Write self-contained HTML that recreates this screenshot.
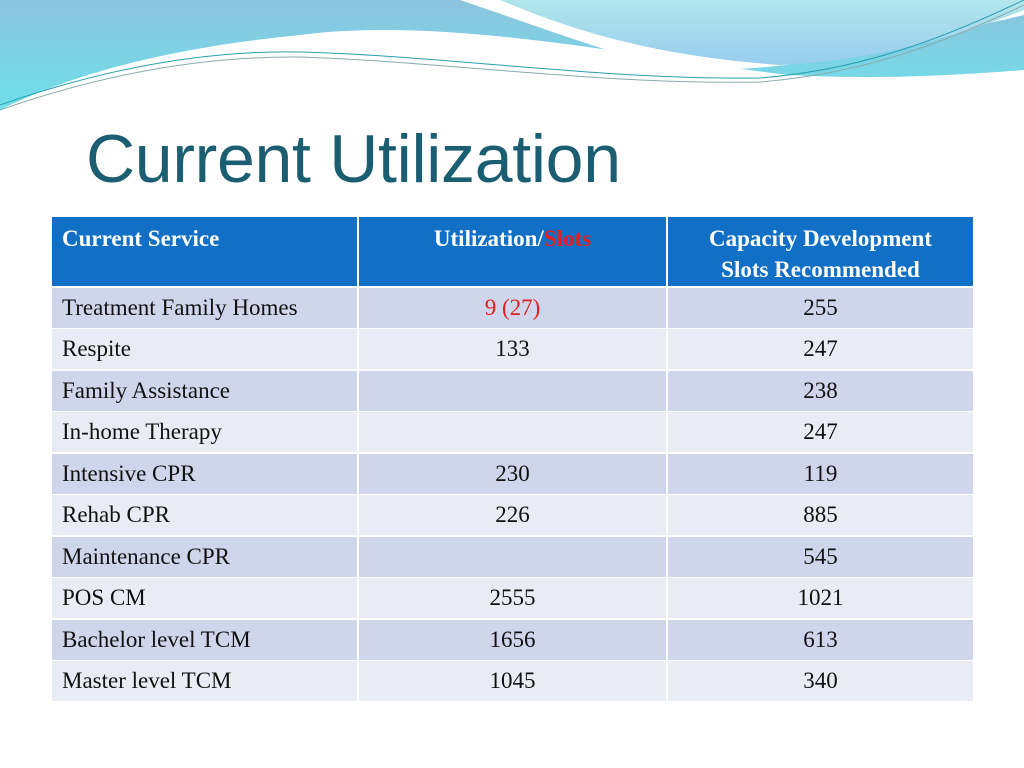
<!DOCTYPE html>
<html><head><meta charset="utf-8"><style>
body{margin:0;width:1024px;height:768px;background:#fff;overflow:hidden;position:relative;font-family:"Liberation Serif",serif}
#bg{position:absolute;left:0;top:0}
h1{position:absolute;left:86px;top:120px;margin:0;font:400 68px "Liberation Sans",sans-serif;color:#1b5e72;letter-spacing:-0.3px}
.tbl{position:absolute;left:52px;top:217px;width:921px;display:grid;grid-template-columns:305px 307px 305px;grid-template-rows:69px repeat(10,40px);gap:1.5px 2px;background:#fff;font-size:23px}
.tbl div{padding:0 10px;display:flex;align-items:center;color:#111;white-space:nowrap}
.tbl .h{background:#1170c6;color:#fff;font-weight:bold;align-items:flex-start;padding-top:6px;line-height:31px;text-align:center;justify-content:center}
.tbl .h.l{justify-content:flex-start}
.tbl .c{justify-content:center}
.tbl .o{background:#cfd5ea}
.tbl .e{background:#e9ebf5}
</style></head><body>
<svg id="bg" width="1024" height="130">
<defs>
<linearGradient id="g1" x1="0" y1="0" x2="0" y2="1"><stop offset="0" stop-color="#8cc4de"/><stop offset="1" stop-color="#6ee0ea"/></linearGradient>
<linearGradient id="g2" x1="0" y1="0" x2="0" y2="1"><stop offset="0" stop-color="#b2e6ec"/><stop offset="1" stop-color="#98cdee"/></linearGradient>
</defs>
<path d="M0,0 H1024 V70 C960,75 880,80 790,75 C650,60 450,15 300,35 C150,50 60,80 0,110 Z" fill="url(#g1)"/>
<path d="M460,0 C520,20 600,50 660,65 C760,80 850,55 1024,15 V0 Z" fill="#fff"/>
<path d="M500,0 C560,25 640,55 780,65 C880,60 960,35 1024,10 V0 Z" fill="url(#g2)"/>
<path d="M0,105 C100,70 200,50 300,52 C450,56 600,80 760,78 C860,70 940,40 1024,0" fill="none" stroke="#2aa0b0" stroke-width="1"/>
<path d="M0,110 C100,75 200,56 300,57 C450,62 600,85 760,82 C860,74 940,45 1024,5" fill="none" stroke="#8aa" stroke-width="1"/>
</svg>
<h1>Current Utilization</h1>
<div class="tbl">
<div class="h l">Current Service</div>
<div class="h">Utilization/<span style="color:#e41e1e">Slots</span></div>
<div class="h">Capacity Development<br>Slots Recommended</div>
<div class="o">Treatment Family Homes</div><div class="o c" style="color:#e41e1e">9 (27)</div><div class="o c">255</div>
<div class="e">Respite</div><div class="e c">133</div><div class="e c">247</div>
<div class="o">Family Assistance</div><div class="o c"></div><div class="o c">238</div>
<div class="e">In-home Therapy</div><div class="e c"></div><div class="e c">247</div>
<div class="o">Intensive CPR</div><div class="o c">230</div><div class="o c">119</div>
<div class="e">Rehab CPR</div><div class="e c">226</div><div class="e c">885</div>
<div class="o">Maintenance CPR</div><div class="o c"></div><div class="o c">545</div>
<div class="e">POS CM</div><div class="e c">2555</div><div class="e c">1021</div>
<div class="o">Bachelor level TCM</div><div class="o c">1656</div><div class="o c">613</div>
<div class="e">Master level TCM</div><div class="e c">1045</div><div class="e c">340</div>
</div>
</body></html>
